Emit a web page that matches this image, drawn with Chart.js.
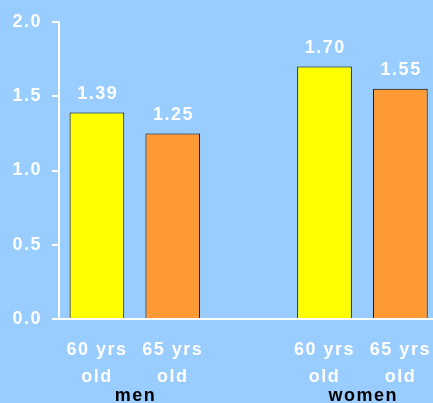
<!DOCTYPE html>
<html>
<head>
<meta charset="utf-8">
<script src="https://cdn.jsdelivr.net/npm/chart.js@4/dist/chart.umd.min.js"></script>
<style>
  html, body { margin: 0; padding: 0; background: #99CCFF; overflow: hidden; }
  #wrap { width: 445px; height: 403px; position: relative; }
</style>
</head>
<body>
<div id="wrap"><canvas id="c"></canvas></div>
<script>
const categories = [['60 yrs', 'old'], ['65 yrs', 'old'], '', ['60 yrs', 'old'], ['65 yrs', 'old']];
const values = [1.39, 1.25, null, 1.70, 1.55];
const valueLabels = ['1.39', '1.25', '', '1.70', '1.55'];
const groups = ['men', 'women'];
const groupMembers = [[0, 1], [3, 4]];
const yTicks = [0, 0.5, 1.0, 1.5, 2.0];
const barColors = ['#FFFF00', '#FF9933', '#FFFF00', '#FFFF00', '#FF9933'];

const FONT = '"Liberation Sans", Arial, sans-serif';

const spacingPlugin = {
  id: 'spacing',
  beforeDraw(chart) { chart.ctx.letterSpacing = '1.5px'; }
};

const labelPlugin = {
  id: 'labels',
  afterDraw(chart) {
    const ctx = chart.ctx;
    const meta = chart.getDatasetMeta(0);
    const xs = chart.scales.x;
    ctx.save();
    ctx.letterSpacing = '1.5px';
    ctx.font = 'bold 18px ' + FONT;
    ctx.textAlign = 'center';
    ctx.textBaseline = 'alphabetic';
    ctx.fillStyle = '#FFFFFF';
    meta.data.forEach((bar, i) => {
      if (values[i] == null) return;
      ctx.fillText(valueLabels[i], bar.x + 0.75, bar.y - 13.5);
    });
    ctx.fillStyle = '#000000';
    groups.forEach((g, k) => {
      const m = groupMembers[k];
      const cx = (xs.getPixelForValue(m[0]) + xs.getPixelForValue(m[1])) / 2;
      ctx.fillText(g, cx + 0.75, 401);
    });
    ctx.restore();
  }
};

new Chart(document.getElementById('c'), {
  type: 'bar',
  data: {
    labels: categories,
    datasets: [{
      data: values,
      backgroundColor: barColors,
      borderColor: '#000000',
      borderWidth: 1,
      barPercentage: 0.72,
      categoryPercentage: 1.0
    }]
  },
  options: {
    responsive: true,
    maintainAspectRatio: false,
    animation: false,
    layout: { padding: { top: 22, right: 6, bottom: 0, left: 0 } },
    plugins: { legend: { display: false }, tooltip: { enabled: false } },
    scales: {
      x: {
        grid: { display: false, drawTicks: false },
        border: { display: true, color: '#FFFFFF', width: 2 },
        ticks: {
          color: '#FFFFFF',
          font: { family: FONT, size: 18, weight: 'bold', lineHeight: 1.5 },
          padding: 18,
          maxRotation: 0,
          autoSkip: false
        },
        afterFit(scale) { scale.height = 84; }
      },
      y: {
        min: 0, max: 2,
        afterBuildTicks(scale) { scale.ticks = yTicks.map(v => ({ value: v })); },
        grid: { drawOnChartArea: false, color: '#FFFFFF', lineWidth: 2, tickLength: 7 },
        border: { display: true, color: '#FFFFFF', width: 2 },
        ticks: {
          color: '#FFFFFF',
          font: { family: FONT, size: 18, weight: 'bold' },
          padding: 10,
          callback: v => Number(v).toFixed(1)
        },
        afterFit(scale) { scale.width = 59; }
      }
    }
  },
  plugins: [spacingPlugin, labelPlugin]
});
</script>
</body>
</html>
